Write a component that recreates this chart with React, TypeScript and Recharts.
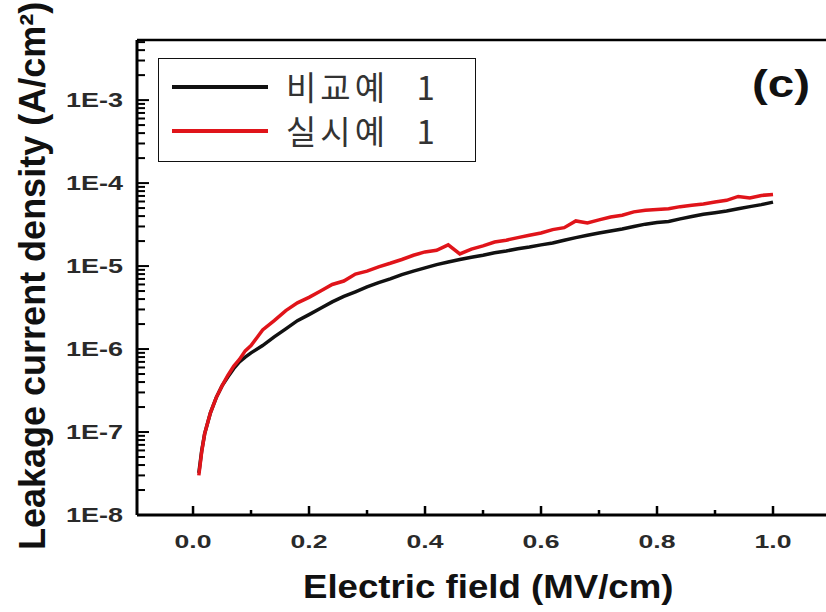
import { LineChart, Line, XAxis, YAxis, ReferenceLine, Label } from 'recharts';

// electric field (MV/cm)
const field = [
  0.01, 0.015, 0.02, 0.03, 0.04, 0.05, 0.06, 0.07, 0.08, 0.09,
  0.10, 0.12, 0.14, 0.16, 0.18, 0.20, 0.22, 0.24, 0.26, 0.28,
  0.30, 0.32, 0.34, 0.36, 0.38, 0.40, 0.42, 0.44, 0.46, 0.48,
  0.50, 0.52, 0.54, 0.56, 0.58, 0.60, 0.62, 0.64, 0.66, 0.68,
  0.70, 0.72, 0.74, 0.76, 0.78, 0.80, 0.82, 0.84, 0.86, 0.88,
  0.90, 0.92, 0.94, 0.96, 0.98, 1.00,
];

// 비교예 1 (A/cm²)
const comparative = [
  3.2e-8, 6.0e-8, 9.5e-8, 1.7e-7, 2.6e-7, 3.6e-7, 4.6e-7, 5.8e-7, 7.0e-7, 8.0e-7,
  9.0e-7, 1.1e-6, 1.4e-6, 1.75e-6, 2.2e-6, 2.6e-6, 3.1e-6, 3.7e-6, 4.3e-6, 4.9e-6,
  5.6e-6, 6.3e-6, 7.0e-6, 7.9e-6, 8.7e-6, 9.5e-6, 1.04e-5, 1.12e-5, 1.2e-5, 1.28e-5,
  1.35e-5, 1.45e-5, 1.52e-5, 1.62e-5, 1.7e-5, 1.8e-5, 1.9e-5, 2.05e-5, 2.2e-5, 2.35e-5,
  2.5e-5, 2.65e-5, 2.8e-5, 3.0e-5, 3.2e-5, 3.35e-5, 3.45e-5, 3.7e-5, 3.95e-5, 4.2e-5,
  4.4e-5, 4.6e-5, 4.9e-5, 5.2e-5, 5.5e-5, 5.9e-5,
];

// 실시예 1 (A/cm²)
const example = [
  3.0e-8, 5.8e-8, 9.5e-8, 1.7e-7, 2.6e-7, 3.6e-7, 4.8e-7, 6.2e-7, 7.5e-7, 9.5e-7,
  1.1e-6, 1.7e-6, 2.2e-6, 2.9e-6, 3.6e-6, 4.2e-6, 5.0e-6, 6.0e-6, 6.6e-6, 8.0e-6,
  8.7e-6, 9.8e-6, 1.08e-5, 1.2e-5, 1.35e-5, 1.48e-5, 1.55e-5, 1.8e-5, 1.4e-5, 1.6e-5,
  1.75e-5, 1.95e-5, 2.05e-5, 2.2e-5, 2.35e-5, 2.5e-5, 2.75e-5, 2.9e-5, 3.5e-5, 3.3e-5,
  3.6e-5, 3.9e-5, 4.1e-5, 4.5e-5, 4.7e-5, 4.8e-5, 4.9e-5, 5.2e-5, 5.4e-5, 5.6e-5,
  5.9e-5, 6.2e-5, 6.9e-5, 6.6e-5, 7.1e-5, 7.3e-5,
];

const seriesNames = ['비교예 1', '실시예 1'];
const seriesKeys = ['comparative', 'example'];
const seriesColors = ['#111111', '#e0141a'];

const xTicks = [0, 0.1, 0.2, 0.3, 0.4, 0.5, 0.6, 0.7, 0.8, 0.9, 1.0];
const xMajor = [0, 0.2, 0.4, 0.6, 0.8, 1.0];
const xLabels = ['0.0', '0.2', '0.4', '0.6', '0.8', '1.0'];

const yMajor = [1e-8, 1e-7, 1e-6, 1e-5, 1e-4, 1e-3];
const yLabels = ['1E-8', '1E-7', '1E-6', '1E-5', '1E-4', '1E-3'];
const yMinorSteps = [2, 3, 4, 5, 6, 7, 8, 9];

const xMin = -0.0966;
const xMax = 1.1;
const yMin = 1e-8;
const yTop = 5.3e-3;

const yTicks: number[] = [];
yMajor.forEach(m => {
  yTicks.push(m);
  yMinorSteps.forEach(s => {
    if (m * s <= yTop) yTicks.push(m * s);
  });
});

const data = field.map((f, i) => ({ field: f, comparative: comparative[i], example: example[i] }));

const FONT = 'Liberation Sans, Arial, sans-serif';
const AXIS_X = 137; // left spine
const AXIS_Y = 515; // bottom spine

function YTick(props: any) {
  const { y, payload } = props;
  const i = yMajor.indexOf(payload.value);
  const major = i >= 0;
  return (
    <g>
      <rect x={AXIS_X} y={y - 1} width={major ? 12 : 8} height={2} fill="#000" />
      {major ? (
        <text transform={`translate(123,${y + 7}) scale(1.35,1)`} textAnchor="end" fontFamily={FONT} fontSize={20}
          fontWeight="bold" fill="#2a2a2a">
          {yLabels[i]}
        </text>
      ) : null}
    </g>
  );
}

function XTick(props: any) {
  const { x, payload } = props;
  const i = xMajor.indexOf(payload.value);
  const major = i >= 0;
  const len = major ? 9 : 5;
  return (
    <g>
      <rect x={x - 1.25} y={AXIS_Y - len} width={2.5} height={len} fill="#000" />
      {major ? (
        <text transform={`translate(${x},${AXIS_Y + 33}) scale(1.4,1)`} textAnchor="middle" fontFamily={FONT}
          fontSize={19} fontWeight="bold" fill="#2a2a2a">
          {xLabels[i]}
        </text>
      ) : null}
    </g>
  );
}

function XTitle() {
  return (
    <text transform="translate(303,598) scale(1.11,1)" fontFamily={FONT} fontSize={33} fontWeight="bold" fill="#111">
      Electric field (MV/cm)
    </text>
  );
}

function YTitle() {
  return (
    <text transform="translate(45,550) rotate(-90)" fontFamily={FONT} fontSize={36} fontWeight="bold" fill="#111">
      Leakage current density (A/cm²)
    </text>
  );
}

function PanelTag() {
  return (
    <text transform="translate(752,97) scale(1.25,1)" fontFamily={FONT} fontSize={38} fontWeight="bold" fill="#111">
      (c)
    </text>
  );
}

function LegendBox() {
  return (
    <div style={{ position: 'absolute', left: 158, top: 58, boxSizing: 'border-box', width: 318, height: 104, border: '1.5px solid #111', background: '#fff' }}>
      {seriesNames.map((name, i) => (
        <div key={name}>
          <div style={{ position: 'absolute', left: 13, top: 26 + i * 44, width: 96, height: 4, background: seriesColors[i] }} />
          <div style={{
            position: 'absolute', left: 127, top: 7 + i * 44, lineHeight: '40px', fontSize: 33,
            fontFamily: '"Noto Sans CJK KR", sans-serif', color: '#333', letterSpacing: 4, wordSpacing: 16, whiteSpace: 'nowrap',
          }}>
            {name}
          </div>
        </div>
      ))}
    </div>
  );
}

export default function App() {
  return (
    <div style={{ position: 'absolute', left: 0, top: 0, width: 826, height: 612, overflow: 'hidden', background: '#fff' }}>
      <LineChart width={840} height={612} data={data} margin={{ top: 40, right: 9, bottom: 0, left: 0 }}>
        <XAxis
          dataKey="field" type="number" domain={[xMin, xMax]} allowDataOverflow
          ticks={xTicks} interval={0} tick={<XTick />} tickLine={false} tickSize={0} tickMargin={0}
          axisLine={{ stroke: '#000', strokeWidth: 3 }} height={97}
        >
          <Label content={<XTitle />} />
        </XAxis>
        <YAxis
          type="number" scale="log" domain={[yMin, yTop]} allowDataOverflow
          ticks={yTicks} interval={0} tick={<YTick />} tickLine={false} tickSize={0} tickMargin={0}
          axisLine={{ stroke: '#000', strokeWidth: 3 }} width={137}
        >
          <Label content={<YTitle />} />
        </YAxis>
        <ReferenceLine y={yTop} stroke="#000" strokeWidth={2.5}>
          <Label content={<PanelTag />} />
        </ReferenceLine>
        <ReferenceLine x={xMax} stroke="#000" strokeWidth={2.5} />
        {seriesKeys.map((k, i) => (
          <Line key={k} name={seriesNames[i]} dataKey={k} type="linear" stroke={seriesColors[i]} strokeWidth={3.5}
            dot={false} isAnimationActive={false} />
        ))}
      </LineChart>
      <LegendBox />
    </div>
  );
}
